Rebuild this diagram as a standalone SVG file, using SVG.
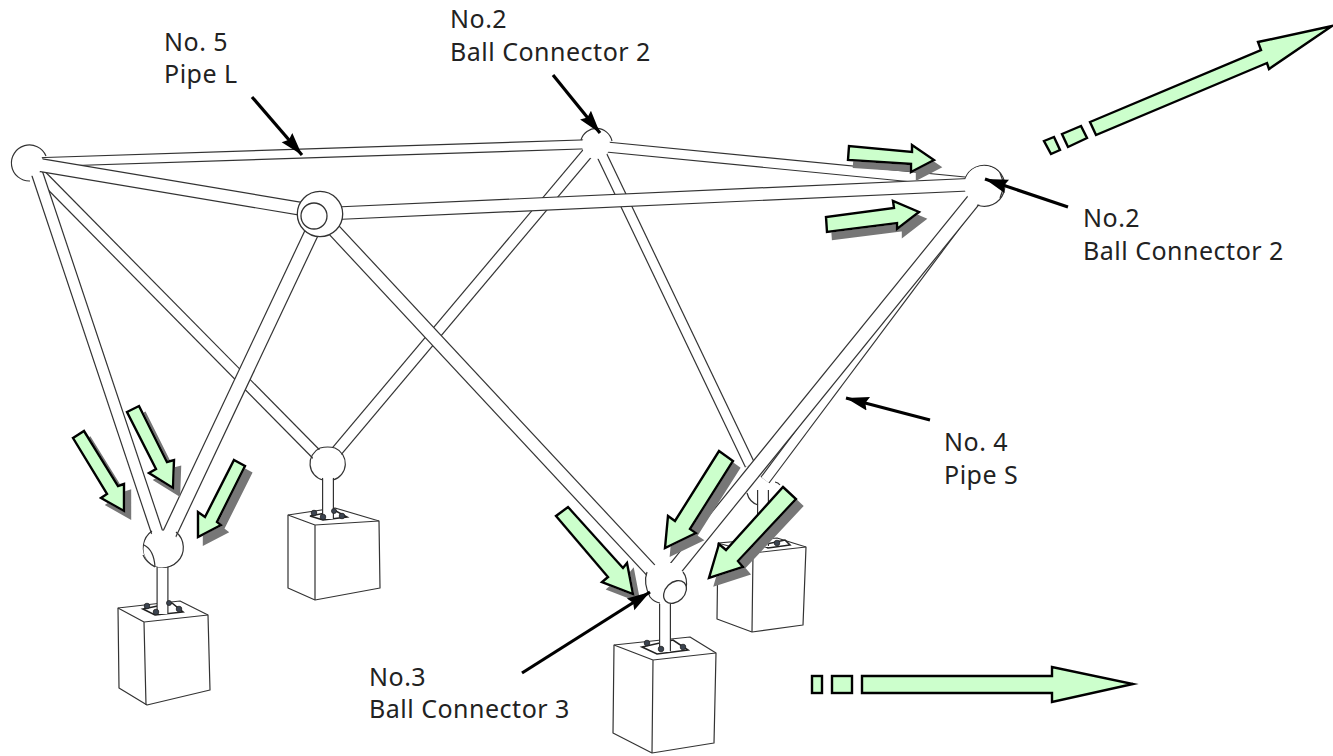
<svg xmlns="http://www.w3.org/2000/svg" width="1333" height="756" viewBox="0 0 1333 756">
<style>
text{font-family:"Noto Sans","Noto Sans CJK KR",sans-serif;font-size:25px;letter-spacing:.5px;fill:#222}
.blk{fill:#fff;stroke:#333;stroke-width:1.2;stroke-linejoin:round}
.ball{fill:#fff;stroke:#333;stroke-width:1.3}
.core{fill:#fff}
.arc{fill:none;stroke:#333;stroke-width:1.2}
.plate{fill:#fff;stroke:#222;stroke-width:1.6}
.bolt{fill:#3c4450;stroke:#222;stroke-width:.8}
.ga{fill:#ccffcc;stroke:#000;stroke-width:2.4;stroke-linejoin:miter;stroke-miterlimit:8}
.sh{filter:url(#ds)}
.ptr{stroke:#000;stroke-width:3.2;fill:none;marker-end:url(#hd)}
.s{fill:none;stroke-linecap:butt}
</style>
<defs>
<filter id="ds" x="-30%" y="-30%" width="170%" height="170%"><feDropShadow dx="6" dy="7" stdDeviation="0.7" flood-color="#777" flood-opacity="1"/></filter>
<marker id="hd" markerUnits="userSpaceOnUse" markerWidth="30" markerHeight="20" refX="23" refY="8" orient="auto"><path d="M0,1 L23,8 L0,15 L3,8Z" fill="#000"/></marker>
</defs>

<g id="blocks">
<g id="block-h"><path class="blk" d="M718,543L777,538L806,547L803,625L752,632L717,619Z"/><path class="blk" d="M718,543L753,553L806,547M753,553L752,632"/></g>
<g id="block-f"><path class="blk" d="M288,515L335,508L379,521L380,588L315,600L288,588Z"/><path class="blk" d="M288,515L315,525L379,521M315,525L315,600"/></g>
<g id="block-e"><path class="blk" d="M118,608L180,601L208,615L210,690L147,705L119,688Z"/><path class="blk" d="M118,608L144,622L208,615M144,622L146,705"/></g>
<g id="block-g"><path class="blk" d="M614,645L690,637L716,653L714,743L652,753L613,733Z"/><path class="blk" d="M614,645L653,660L716,653M653,660L652,753"/></g>
</g>

<g id="plates">
<path class="plate" d="M310,516L336,511L347,517L323,520Z"/>
<path class="plate" d="M143,609L172,603L183,612L155,615Z"/>
<path class="plate" d="M642,647L673,640L688,650L657,654Z"/>
<path class="plate" d="M762,545L785,540L790,545L768,548Z"/>
</g>

<g id="connectors" class="s">
<g stroke="#333"><path stroke-width="12" d="M328,470V518M162.500,560V613M665,600V651M763,490V546"/></g>
<g stroke="#fff"><path stroke-width="9.600" d="M328,470V519M162.500,560V614M665,600V652M763,490V547"/></g>

<g id="pipe-dh"><line x1="985" y1="186" x2="765" y2="480" stroke="#333" stroke-width="11.200"/><line x1="985" y1="186" x2="765" y2="480" stroke="#fff" stroke-width="8.800"/></g>
<g id="pipe-ch"><line x1="596" y1="143" x2="750" y2="465" stroke="#333" stroke-width="11.200"/><line x1="596" y1="143" x2="750" y2="465" stroke="#fff" stroke-width="8.800"/></g>
<g id="pipe-cf"><line x1="596" y1="143" x2="326" y2="464" stroke="#333" stroke-width="12.200"/><line x1="596" y1="143" x2="326" y2="464" stroke="#fff" stroke-width="9.800"/></g>
<g id="pipe-ac"><line x1="30" y1="162.500" x2="596" y2="144" stroke="#333" stroke-width="10.200"/><line x1="30" y1="162.500" x2="596" y2="144" stroke="#fff" stroke-width="7.800"/></g>
<g id="pipe-cd"><line x1="596" y1="146" x2="985" y2="184" stroke="#333" stroke-width="11.200"/><line x1="596" y1="146" x2="985" y2="184" stroke="#fff" stroke-width="8.800"/></g>
<g id="pipe-af"><line x1="36" y1="170" x2="326" y2="464" stroke="#333" stroke-width="11.800"/><line x1="36" y1="170" x2="326" y2="464" stroke="#fff" stroke-width="9.400"/></g>
<g id="pipe-ae"><line x1="36" y1="170" x2="158" y2="535" stroke="#333" stroke-width="12.600"/><line x1="36" y1="170" x2="158" y2="535" stroke="#fff" stroke-width="10.200"/></g>
<g id="pipe-ab"><line x1="34" y1="164" x2="320" y2="212" stroke="#333" stroke-width="14.200"/><line x1="34" y1="164" x2="320" y2="212" stroke="#fff" stroke-width="11.800"/></g>
<g id="pipe-bd"><line x1="320" y1="214" x2="985" y2="184" stroke="#333" stroke-width="13.700"/><line x1="320" y1="214" x2="985" y2="184" stroke="#fff" stroke-width="11.300"/></g>
<g id="pipe-be"><line x1="320" y1="215" x2="168" y2="537" stroke="#333" stroke-width="15.200"/><line x1="320" y1="215" x2="168" y2="537" stroke="#fff" stroke-width="12.800"/></g>
<g id="pipe-bg"><line x1="320" y1="215" x2="660" y2="580" stroke="#333" stroke-width="14.200"/><line x1="320" y1="215" x2="660" y2="580" stroke="#fff" stroke-width="11.800"/></g>
<g id="pipe-dg"><line x1="985" y1="186" x2="670" y2="575" stroke="#333" stroke-width="15.200"/><line x1="985" y1="186" x2="670" y2="575" stroke="#fff" stroke-width="12.800"/></g>
</g>

<g id="ball-a"><path class="arc" d="M46,156A18,18 0 1 0 30,181"/><circle class="core" cx="30" cy="163" r="13"/></g>
<g id="ball-b"><circle class="ball" cx="320" cy="214" r="22.700"/><circle class="ball" cx="314" cy="216" r="13"/></g>
<g id="ball-c"><circle class="core" cx="596" cy="145" r="14"/><path class="arc" d="M581,140A16,16 0 0 1 612,141"/></g>
<g id="ball-d"><path class="arc" d="M965,179A20.500,20.500 0 1 1 977,205"/><circle class="core" cx="984" cy="185.500" r="19.800"/><path class="arc" d="M1000,173Q1006,185 1000,198"/></g>
<g id="ball-e"><path class="arc" d="M152,531A20,20 0 1 0 176,532"/><circle class="core" cx="162" cy="549" r="18.500"/><path class="arc" d="M144,545Q154,550 155,567"/><path class="arc" d="M143,555Q146,562 155,567"/></g>
<g id="ball-f"><circle class="core" cx="328" cy="463" r="16"/><path class="arc" d="M320,448Q328,446 335,448M320,448A17,17 0 0 0 323,480M335,448A17,17 0 0 1 333,480"/></g>
<g id="ball-h"><path class="arc" d="M747,493A17,17 0 0 0 758,505M775,482A8,8 0 0 1 780,485"/></g>
<g id="ball-g"><polygon class="core" points="657,563 672,563 683,572 687,590 675,603 660,604 647,595 645,583 647,572"/><path class="arc" d="M647,572Q643,583 650,597Q654,602 660,603M683,572Q688,578 686,590"/><ellipse class="ball" cx="675" cy="592" rx="13" ry="9.500" transform="rotate(-45 675 592)"/></g>

<g id="green-arrows">
<polygon class="ga sh" points="73,438 84,431 118,486 124,484 124,511 101,498 107,494"/>
<polygon class="ga sh" points="127,412 139,406 167,462 174,460 173,488 149,473 156,469"/>
<polygon class="ga sh" points="234,460 245,466 217,522 221,525 198,537 198,512 205,517"/>
<polygon class="ga sh" points="719,451 733,461 690,529 696,533 665,548 668,516 675,521"/>
<polygon class="ga sh" points="783,487 796,499 738,561 743,567 709,578 719,544 726,550"/>
<polygon class="ga sh" points="556,516 568,507 623,568 627,563 633,594 602,582 608,577"/>
<polygon class="ga sh" points="849,146 848,160 911,164 911,172 934,160 912,145 912,152"/>
<polygon class="ga sh" points="826,217 827,232 897,223 897,229 919,212 893,201 894,208"/>
<polygon class="ga" points="1090,122 1096,135 1267,63 1269,69 1332,26 1258,42 1261,50"/>
<polygon class="ga" points="1062,134 1081,126 1087,138 1068,147"/>
<polygon class="ga" points="1044,141 1054,137 1060,150 1051,154"/>
<polygon class="ga" points="862,676 1052,676 1052,667 1133,684 1052,702 1052,693 862,693"/>
<rect class="ga" x="832" y="676" width="20" height="17"/>
<rect class="ga" x="812" y="676" width="10" height="17"/>
</g>

<g id="bolts">
<circle class="bolt" cx="314" cy="513" r="2.800"/><circle class="bolt" cx="323" cy="517" r="2.800"/><circle class="bolt" cx="334" cy="511" r="2.500"/><circle class="bolt" cx="342" cy="516" r="2.800"/>
<circle class="bolt" cx="147" cy="606" r="2.800"/><circle class="bolt" cx="156" cy="612" r="2.800"/><circle class="bolt" cx="169" cy="603" r="2.500"/><circle class="bolt" cx="179" cy="609" r="2.800"/>
<circle class="bolt" cx="647" cy="643" r="2.800"/><circle class="bolt" cx="661" cy="649" r="2.800"/><circle class="bolt" cx="683" cy="647" r="2.800"/>
<circle class="bolt" cx="777" cy="543" r="2.800"/>
</g>

<g id="pointers">
<line class="ptr" x1="252" y1="97" x2="302" y2="155"/>
<line class="ptr" x1="553" y1="75" x2="600" y2="133"/>
<line class="ptr" x1="1068" y1="207" x2="985" y2="179"/>
<line class="ptr" x1="930" y1="420" x2="846" y2="398"/>
<line class="ptr" x1="522" y1="673" x2="650" y2="592"/>
</g>

<g id="labels">
<text x="164" y="51">No. 5</text><text x="164" y="83">Pipe L</text>
<text x="450" y="28">No.2</text><text x="450" y="61">Ball Connector 2</text>
<text x="1083" y="227">No.2</text><text x="1083" y="260">Ball Connector 2</text>
<text x="944" y="451">No. 4</text><text x="944" y="484">Pipe S</text>
<text x="369" y="686">No.3</text><text x="369" y="718">Ball Connector 3</text>
</g>
</svg>
